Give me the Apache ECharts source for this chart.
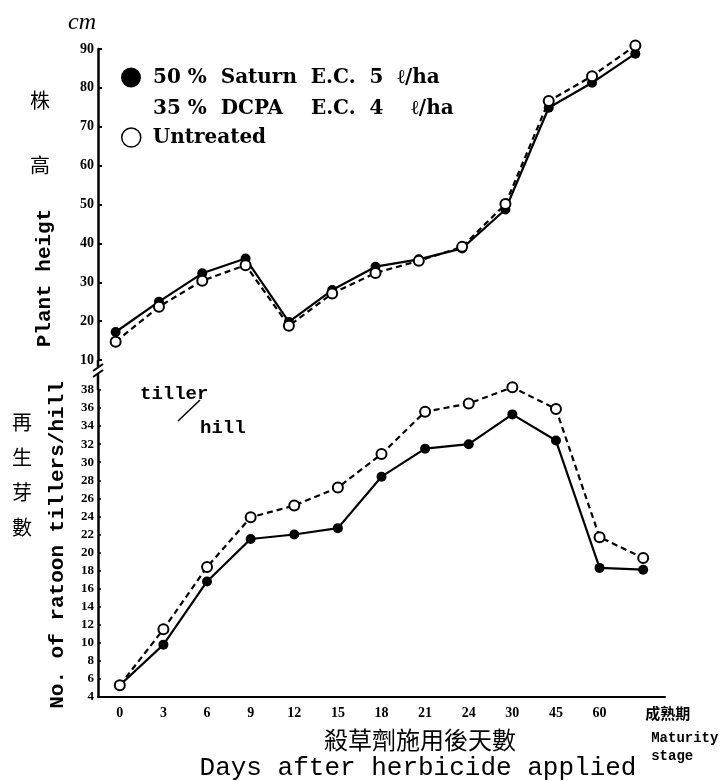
<!DOCTYPE html>
<html><head><meta charset="utf-8">
<script src="https://cdn.jsdelivr.net/npm/echarts@6/dist/echarts.min.js"></script>
<style>html,body{margin:0;padding:0;background:#fff}#c{width:722px;height:781px}</style>
</head><body><div id="c"></div>
<script>
// ---- data ----
const categories = ['0','3','6','9','12','15','18','21','24','30','45','60','成熟期'];
const heightSaturn    = [17.2, 25.0, 32.3, 36.1, 19.8, 28.0, 34.0, 35.9, 38.7, 48.7, 74.9, 81.3, 88.8];
const heightUntreated = [14.7, 23.7, 30.4, 34.4, 18.8, 27.1, 32.4, 35.5, 39.1, 50.1, 76.6, 83.0, 90.9];
const tillerSaturn    = [5.3, 9.8, 16.8, 21.5, 22.0, 22.7, 28.4, 31.5, 32.0, 35.3, 32.4, 18.3, 18.1];
const tillerUntreated = [5.3, 11.5, 18.4, 23.9, 25.2, 27.2, 30.9, 35.6, 36.5, 38.3, 35.9, 21.7, 19.4];
const heightAxis = {min: 10, max: 90, interval: 10};
const tillerAxis = {min: 4, max: 38, interval: 2};
const nameSaturn = '50 %  Saturn  E.C.  5  ℓ/ha\n35 %  DCPA    E.C.  4    ℓ/ha';
const nameUntreated = 'Untreated';

// ---- chart ----
const chart = echarts.init(document.getElementById('c'), null, {renderer: 'canvas'});
const tickFont = {fontFamily: 'Liberation Serif', fontWeight: 'bold', color: '#000'};
const L = 98, W = 567;
const solidLine = {color: '#000', width: 2.2};
const dashLine = {color: '#000', width: 2.2, type: [6, 4]};
const filled = {color: '#000', borderWidth: 0};
const hollow = {color: '#fff', borderColor: '#000', borderWidth: 2};
const legendText = {fontFamily: 'DejaVu Serif', fontWeight: 'bold', fontSize: 20, color: '#000', lineHeight: 31};

const option = {
  backgroundColor: '#fff',
  animation: false,
  grid: [
    {left: 94, top: 49, width: 563, height: 311, outerBoundsMode: 'none', containLabel: false},
    {left: L, top: 390, width: W, height: 307, outerBoundsMode: 'none', containLabel: false}
  ],
  legend: [
    {
      left: 116, top: 26, orient: 'vertical',
      data: [{name: nameSaturn, icon: 'circle', itemStyle: {color: '#000', borderWidth: 0}}],
      itemWidth: 20, itemHeight: 20, selectedMode: false,
      formatter: n => '\n' + n.split('\n').map(s => ' ' + s).join('\n'),
      textStyle: legendText
    },
    {
      left: 116, top: 117, orient: 'vertical',
      data: [{name: nameUntreated, icon: 'circle', itemStyle: {color: '#fff', borderColor: '#000', borderWidth: 1.5}}],
      itemWidth: 19, itemHeight: 19, selectedMode: false,
      formatter: n => ' ' + n,
      textStyle: legendText
    }
  ],
  xAxis: [
    {gridIndex: 0, type: 'category', data: categories, boundaryGap: true, show: false},
    {
      gridIndex: 1, type: 'category', data: categories, boundaryGap: true,
      axisLine: {lineStyle: {color: '#000', width: 2}},
      axisTick: {alignWithLabel: true, inside: true, length: 4, lineStyle: {color: '#000', width: 2}},
      axisLabel: Object.assign({}, tickFont, {
        fontSize: 14, margin: 9, interval: 0,
        formatter: v => v === '成熟期' ? '{m|成熟期}\n{e|Maturity}\n{e|stage}' : v,
        rich: {
          m: {fontFamily: 'Noto Sans CJK TC', fontSize: 15, fontWeight: 'bold', width: 80, align: 'left', verticalAlign: 'top', padding: [0, 0, 0, 90], lineHeight: 23, color: '#000'},
          e: {fontFamily: 'Liberation Mono', fontSize: 14, fontWeight: 'bold', width: 80, align: 'left', padding: [0, 0, 0, 96], lineHeight: 18, color: '#000'}
        }
      }),
      splitLine: {show: false}
    }
  ],
  yAxis: [
    {
      gridIndex: 0, type: 'value', min: heightAxis.min, max: heightAxis.max, interval: heightAxis.interval,
      offset: -4,
      name: 'cm', nameLocation: 'end', nameGap: 14,
      nameTextStyle: {fontFamily: 'Liberation Serif', fontStyle: 'italic', fontSize: 24, color: '#000', align: 'right', padding: [0, 2, 0, 0]},
      axisLine: {show: true, lineStyle: {color: '#000', width: 2.5}},
      axisTick: {show: true, inside: true, length: 4, lineStyle: {color: '#000', width: 2}},
      axisLabel: Object.assign({}, tickFont, {fontSize: 14, margin: 4}),
      splitLine: {show: false}
    },
    {
      gridIndex: 1, type: 'value', min: tillerAxis.min, max: tillerAxis.max, interval: tillerAxis.interval,
      axisLine: {show: true, lineStyle: {color: '#000', width: 2.5}},
      axisTick: {show: true, inside: true, length: 3, lineStyle: {color: '#000', width: 1.5}},
      axisLabel: Object.assign({}, tickFont, {fontSize: 13, margin: 4}),
      splitLine: {show: false}
    }
  ],
  series: [
    {name: nameSaturn, type: 'line', xAxisIndex: 0, yAxisIndex: 0, data: heightSaturn, clip: false,
     symbol: 'circle', symbolSize: 10, itemStyle: filled, lineStyle: solidLine, z: 3},
    {name: nameUntreated, type: 'line', xAxisIndex: 0, yAxisIndex: 0, data: heightUntreated, clip: false,
     symbol: 'circle', symbolSize: 10, itemStyle: hollow, lineStyle: dashLine, z: 4},
    {name: nameSaturn, type: 'line', xAxisIndex: 1, yAxisIndex: 1, data: tillerSaturn, clip: false,
     symbol: 'circle', symbolSize: 10, itemStyle: filled, lineStyle: solidLine, z: 3},
    {name: nameUntreated, type: 'line', xAxisIndex: 1, yAxisIndex: 1, data: tillerUntreated, clip: false,
     symbol: 'circle', symbolSize: 10, itemStyle: hollow, lineStyle: dashLine, z: 4}
  ],
  graphic: [
    // axis break between panels
    {type: 'line', shape: {x1: L, y1: 360, x2: L, y2: 367}, style: {stroke: '#000', lineWidth: 2.5}},
    {type: 'line', shape: {x1: 93, y1: 371, x2: 103, y2: 364}, style: {stroke: '#000', lineWidth: 2}},
    {type: 'line', shape: {x1: 93, y1: 377, x2: 103, y2: 370}, style: {stroke: '#000', lineWidth: 2}},
    {type: 'line', shape: {x1: L, y1: 374, x2: L, y2: 390}, style: {stroke: '#000', lineWidth: 2.5}},
    // y axis titles
    {type: 'text', x: 40, y: 100, style: {text: '株', font: '20px "Noto Sans CJK TC"', fill: '#000', align: 'center', verticalAlign: 'middle'}},
    {type: 'text', x: 40, y: 165, style: {text: '高', font: '20px "Noto Sans CJK TC"', fill: '#000', align: 'center', verticalAlign: 'middle'}},
    {type: 'text', x: 45, y: 278, rotation: Math.PI / 2, style: {text: 'Plant heigt', font: 'bold 21px "Liberation Mono"', fill: '#000', align: 'center', verticalAlign: 'middle'}},
    {type: 'text', x: 22, y: 475, style: {text: '再\n生\n芽\n數', font: '20px "Noto Sans CJK TC"', lineHeight: 35, fill: '#000', align: 'center', verticalAlign: 'middle'}},
    {type: 'text', x: 58, y: 545, rotation: Math.PI / 2, style: {text: 'No. of ratoon tillers/hill', font: 'bold 21px "Liberation Mono"', fill: '#000', align: 'center', verticalAlign: 'middle'}},
    // unit annotation in lower panel
    {type: 'text', x: 140, y: 394, style: {text: 'tiller', font: 'bold 19px "Liberation Mono"', fill: '#000', align: 'left', verticalAlign: 'middle'}},
    {type: 'line', shape: {x1: 178, y1: 421, x2: 200, y2: 400}, style: {stroke: '#000', lineWidth: 1.5}},
    {type: 'text', x: 200, y: 428, style: {text: 'hill', font: 'bold 19px "Liberation Mono"', fill: '#000', align: 'left', verticalAlign: 'middle'}},
    // x axis titles
    {type: 'text', x: 420, y: 740, style: {text: '殺草劑施用後天數', font: '24px "Noto Sans CJK TC"', fill: '#000', align: 'center', verticalAlign: 'middle'}},
    {type: 'text', x: 418, y: 768, style: {text: 'Days after herbicide applied', font: '26px "Liberation Mono"', fill: '#000', align: 'center', verticalAlign: 'middle'}}
  ]
};
chart.setOption(option);
</script>
</body></html>
